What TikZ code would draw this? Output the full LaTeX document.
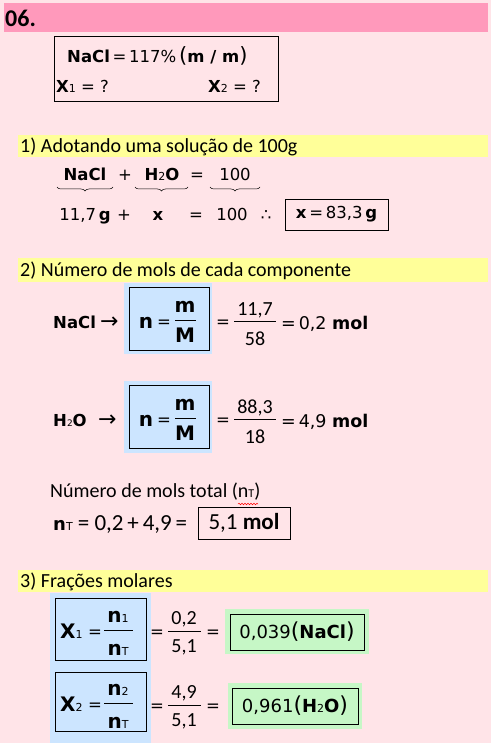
\documentclass[tikz,border=0pt]{standalone}
\usepackage{fontspec}
\setmainfont{Carlito}
\newfontfamily\dv{DejaVu Sans}
\usetikzlibrary{decorations.pathreplacing,decorations.pathmorphing}
\definecolor{bg}{HTML}{FFE4E8}
\definecolor{hdr}{HTML}{FF99BB}
\definecolor{yel}{HTML}{FFFF99}
\definecolor{blu}{HTML}{CCE5FF}
\definecolor{grn}{HTML}{C6F7C6}
\newcommand\sz[1]{\fontsize{#1}{#1}\selectfont}
\begin{document}
\begin{tikzpicture}[x=1pt,y=-1pt,
  t/.style={inner sep=0pt, anchor=base west},
  tc/.style={inner sep=0pt, anchor=base},
  hd/.style={t, font=\sz{20}},
  eq/.style={t, font=\dv\sz{16.5}},
  eqc/.style={tc, font=\dv\sz{16.5}},
  fn/.style={tc, font=\sz{20}},
  fb/.style={tc, font=\dv\bfseries\sz{20}},
  bx/.style={draw=black, line width=0.8pt},
  bxn/.style={draw=black, line width=0.8pt, inner sep=0pt},
  fl/.style={line width=0.7pt},
  brc/.style={decorate, decoration={brace, mirror, amplitude=4pt}, line width=0.5pt}]
\fill[bg] (0,0) rectangle (491,743);
\useasboundingbox (0,0) rectangle (491,743);
% header
\fill[hdr] (4,3) rectangle (488,32);
\node[t, font=\bfseries\sz{24}] (h) at (5,27) {06.};
% data box
\draw[bx] (54,36) rectangle (278,101);
\node[eq] (d1) at (67,63) {\textbf{NaCl}\,=\,117\%\,{\sz{21}(}\textbf{m / m}{\sz{21})}};
\node[eq] (d2) at (56,93) {\textbf{X}{\sz{11}1} = ?};
\node[eq] (d3) at (208,93) {\textbf{X}{\sz{11}2} = ?};
% section 1
\fill[yel] (18,135) rectangle (488,157);
\node[hd] (s1) at (20,153) {1) Adotando uma solução de 100g};
\node[eqc] (a1) at (85,181) {\textbf{NaCl}};
\node[eqc] (a2) at (125,181) {+};
\node[eqc] (a3) at (162,181) {\textbf{H}{\sz{11}2}\textbf{O}};
\node[eqc] (a4) at (197,181) {=};
\node[eqc] (a5) at (235,181) {100};
\draw[brc] (57,187) -- (113,187);
\draw[brc] (135,187) -- (188,187);
\draw[brc] (210,187) -- (260,187);
\node[eqc] (b1) at (85,220) {11,7\,\textbf{g}};
\node[eqc] (b2) at (124,220) {+};
\node[eqc] (b3) at (158,220) {\textbf{x}};
\node[eqc] (b4) at (196,220) {=};
\node[eqc] (b5) at (232,220) {100};
\node[eqc] (b6) at (266,220) {∴};
\node[bxn, minimum width=103, minimum height=31, font=\dv\sz{16.5}] (b7) at (336.5,214.5) {\textbf{x}\,=\,83,3\,\textbf{g}};
% section 2
\fill[yel] (18,258) rectangle (488,282);
\node[hd] (s2) at (20,276) {2) Número de mols de cada componente};
% NaCl row
\node[t, font=\dv\bfseries\sz{16.5}] (c0) at (53,328) {NaCl};
\node[t, font=\dv\sz{22}] (c0a) at (100,328) {→};
\fill[blu] (124,283) rectangle (212,354);
\draw[bx] (129,287) rectangle (209,350);
\node[fb] (c1) at (146,328) {n};
\node[eqc] (c2) at (164,327) {=};
\node[fb] (c3) at (185,312) {m};
\draw[fl] (175,320) -- (196,320);
\node[fb] (c4) at (185,342) {M};
\node[eqc] (c5) at (223,327) {=};
\node[fn] (c6) at (255,315) {11,7};
\draw[fl] (234,321) -- (276,321);
\node[fn] (c7) at (255,345) {58};
\node[t, font=\dv\sz{17.5}] (c8) at (281,329) {=\,0,2 \textbf{mol}};
% H2O row
\node[t, font=\dv\bfseries\sz{16.5}] (e0) at (53,426) {H{\mdseries\sz{9}2}O};
\node[t, font=\dv\sz{22}] (e0a) at (98,426) {→};
\fill[blu] (124,381) rectangle (212,453);
\draw[bx] (129,385) rectangle (209,448);
\node[fb] (e1) at (146,426) {n};
\node[eqc] (e2) at (164,425) {=};
\node[fb] (e3) at (185,410) {m};
\draw[fl] (175,418) -- (196,418);
\node[fb] (e4) at (185,440) {M};
\node[eqc] (e5) at (223,425) {=};
\node[fn] (e6) at (255,413) {88,3};
\draw[fl] (234,419) -- (276,419);
\node[fn] (e7) at (255,443) {18};
\node[t, font=\dv\sz{17.5}] (e8) at (281,427) {=\,4,9 \textbf{mol}};
% total
\node[hd] (g0) at (50,497) {Número de mols total (n{\sz{12}T})};
\draw[red, line width=0.5pt, decorate, decoration={snake, amplitude=0.8pt, segment length=3pt}] (238,504) -- (258,504);
\node[t, font=\sz{23}] (g1) at (53,530) {\textbf{\dv\sz{18}n}{\dv\sz{11}T} = 0,2\,+\,4,9\,=};
\node[bxn, minimum width=92, minimum height=32, font=\sz{23}] (g2) at (244,523) {5,1 \textbf{mol}};
% section 3
\fill[yel] (18,570) rectangle (488,592);
\node[hd] (s3) at (20,587) {3) Frações molares};
\fill[blu] (50,593) rectangle (151,743);
\draw[bx] (55,598) rectangle (146,660);
\node[t, font=\dv\bfseries\sz{20}] (x1) at (60,638) {X{\mdseries\sz{11}1}};
\node[eqc] (x2) at (95,637) {=};
\node[fb] (x3) at (118,622) {n{\mdseries\sz{11}1}};
\draw[fl] (104,630) -- (133,630);
\node[fb] (x4) at (118,655) {n{\mdseries\sz{11}T}};
\node[eqc] (x5) at (157,637) {=};
\node[fn] (x6) at (184,624) {0,2};
\draw[fl] (168,631) -- (201,631);
\node[fn] (x7) at (184,652) {5,1};
\node[eqc] (x8) at (213,637) {=};
\fill[grn] (225,609) rectangle (369,654);
\node[bxn, minimum width=134, minimum height=36, font=\dv\sz{18}] (x9) at (297,632) {0,039{\sz{22}(}\textbf{NaCl}{\sz{22})}};
\draw[bx] (55,672) rectangle (146,731);
\node[t, font=\dv\bfseries\sz{20}] (y1) at (60,711) {X{\mdseries\sz{11}2}};
\node[eqc] (y2) at (95,710) {=};
\node[fb] (y3) at (118,695) {n{\mdseries\sz{11}2}};
\draw[fl] (104,703) -- (133,703);
\node[fb] (y4) at (118,728) {n{\mdseries\sz{11}T}};
\node[eqc] (y5) at (157,711) {=};
\node[fn] (y6) at (184,698) {4,9};
\draw[fl] (168,705) -- (201,705);
\node[fn] (y7) at (184,726) {5,1};
\node[eqc] (y8) at (213,711) {=};
\fill[grn] (228,683) rectangle (362,729);
\node[bxn, minimum width=126, minimum height=36, font=\dv\sz{18}] (y9) at (295,706) {0,961{\sz{22}(}\textbf{H}{\sz{11}2}\textbf{O}{\sz{22})}};
\end{tikzpicture}
\end{document}
